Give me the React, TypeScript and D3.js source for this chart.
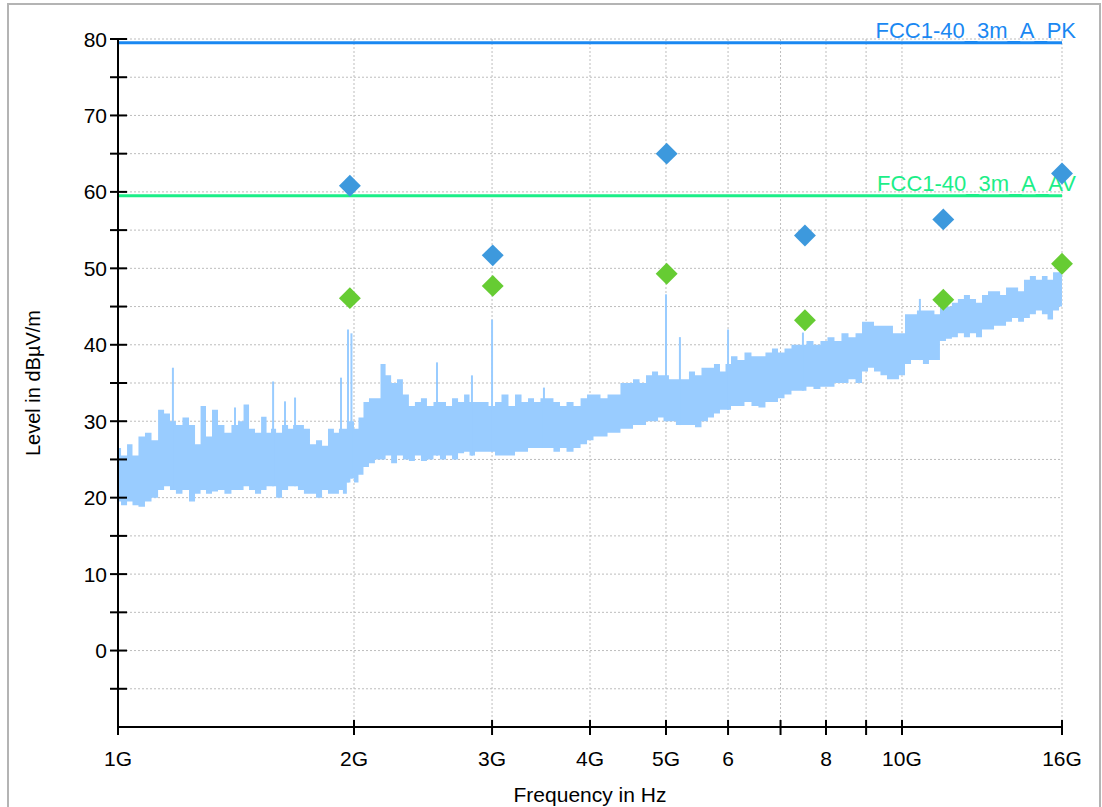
import React from 'react';
import * as d3 from 'd3';

// measured trace envelope (GHz, dBµV/m)
const traceFreq = [
  1.0, 1.018, 1.036, 1.051, 1.073, 1.092, 1.115, 1.135, 1.155, 1.175, 1.196, 1.221, 1.243, 1.265, 1.284, 1.306,
  1.33, 1.353, 1.381, 1.41, 1.435, 1.457, 1.482, 1.509, 1.536, 1.558, 1.577, 1.605, 1.633, 1.663, 1.682, 1.711,
  1.742, 1.773, 1.805, 1.837, 1.869, 1.902, 1.925, 1.947, 1.97, 1.988, 2.012, 2.041, 2.072, 2.108, 2.146, 2.178,
  2.211, 2.25, 2.289, 2.329, 2.371, 2.413, 2.456, 2.5, 2.552, 2.597, 2.644, 2.691, 2.739, 2.788, 2.828, 2.879,
  2.939, 3.0, 3.053, 3.116, 3.181, 3.238, 3.305, 3.364, 3.423, 3.494, 3.556, 3.63, 3.695, 3.772, 3.851, 3.931,
  4.0, 4.083, 4.168, 4.255, 4.329, 4.42, 4.499, 4.579, 4.674, 4.757, 4.842, 4.928, 5.0, 5.088, 5.209, 5.302,
  5.397, 5.493, 5.607, 5.706, 5.808, 5.911, 6.0, 6.105, 6.232, 6.362, 6.493, 6.628, 6.766, 6.886, 7.01, 7.155,
  7.303, 7.476, 7.632, 7.79, 7.952, 8.118, 8.286, 8.458, 8.636, 8.815, 8.971, 9.131, 9.292, 9.485, 9.654, 9.824,
  10.0, 10.18, 10.36, 10.54, 10.73, 10.92, 11.08, 11.28, 11.48, 11.68, 11.89, 12.1, 12.32, 12.54, 12.76, 12.99,
  13.22, 13.46, 13.69, 13.94, 14.19, 14.43, 14.69, 14.95, 15.22, 15.45, 15.72, 16.0,
];
const traceUpper = [
  26.5, 25.5, 27, 25.5, 28, 28.5, 27.5, 31.5, 31, 30, 29.5, 30.5, 29.5, 27, 32, 28,
  31.5, 29.5, 28.5, 29.5, 30, 32.2, 29, 28.5, 30.6, 28.5, 29, 28.5, 29.5, 29, 29.5, 29.5,
  29, 27, 27.5, 26.8, 29, 28.5, 29, 29, 30, 30, 29, 30.5, 32.5, 33, 33, 37.5,
  36, 35, 35.5, 33.5, 32, 32.5, 33, 32, 32.5, 32.5, 32, 33, 32.5, 33.5, 32.5, 32.5,
  32.5, 32, 32.5, 33.5, 32, 33.5, 32.5, 33, 32.5, 33, 33, 32.5, 32, 32.5, 32, 33,
  33.5, 33.5, 33, 33.5, 33.5, 35, 35, 35.5, 35, 36, 36.5, 36, 36, 35.5, 35.5, 35.5,
  36.5, 36, 37, 37, 37.5, 36.5, 37.5, 38.5, 38, 39, 38.5, 38.5, 39, 39.5, 39, 39.5,
  40, 40, 40.5, 40, 40.5, 41, 40.5, 41.5, 41, 41.5, 43, 43, 42.5, 42.5, 42.5, 41.5,
  41.5, 44, 44, 44.5, 44.5, 44.5, 44, 45.5, 45, 45.5, 46, 46.5, 46, 45.5, 46.5, 47,
  47, 46.5, 47.5, 47.5, 47, 48.5, 49, 48.5, 49, 48.5, 49.5, 50,
];
const traceLower = [
  19.5, 19, 19.5, 19, 18.8, 19.5, 20, 21, 21.5, 21, 20.5, 21, 19.5, 20.5, 21, 20.5,
  20.8, 21, 20.5, 21, 21, 21.5, 21, 20.5, 21, 21.5, 21.5, 20, 21, 21.5, 21.5, 21,
  20.5, 20.5, 20, 21, 20.5, 20.5, 21, 20.5, 22, 22.5, 22, 23, 24, 24.5, 25, 25,
  25.5, 24.5, 25.5, 25, 24.8, 25.5, 24.8, 25, 25.5, 25, 25.5, 25, 25.8, 26, 25.5, 26,
  26, 26, 25.5, 25.5, 25.5, 26, 26, 26.5, 26.5, 26.5, 26.5, 26, 26.5, 26, 26.5, 27,
  27.5, 28, 28, 28.5, 28.5, 29, 29, 29.5, 29.5, 30, 30, 30.5, 30, 30, 29.5, 29.5,
  29.5, 29.2, 30, 30.5, 31, 31.5, 31.5, 32, 32, 32.5, 32, 31.8, 32.5, 32.5, 33, 33.5,
  34, 34, 34.5, 34.2, 34.5, 34.5, 35, 35, 35.5, 35, 36.5, 37, 36.5, 36, 35.5, 35.5,
  36, 37.5, 38, 38, 37.5, 38, 38, 40.5, 40.8, 41, 41.5, 41, 41.5, 41, 42, 42,
  42.5, 42.5, 43, 43.5, 43, 43.5, 44, 44.5, 44, 43.3, 44.5, 45,
];

// narrow spurious spikes on the trace
const spikeFreq = [1.175, 1.41, 1.577, 1.633, 1.682, 1.925, 1.965, 1.985, 2.552, 2.828, 3.0, 3.494, 5.0, 5.209, 6.0, 7.476, 10.54];
const spikeLevel = [37, 31.8, 35.2, 32.6, 33.1, 35.7, 42, 41.5, 37.7, 36, 43.3, 34.4, 46.6, 41, 42, 41.6, 46];

// final measurement markers
const markerFreq = [1.976, 3.006, 5.01, 7.52, 11.29, 16.0];
const peakLevel = [60.8, 51.7, 65.0, 54.3, 56.4, 62.4];
const avgLevel = [46.1, 47.7, 49.3, 43.2, 45.9, 50.6];

const limitPK = 79.5;
const limitAV = 59.5;

const xTicks = [1, 2, 3, 4, 5, 6, 7, 8, 9, 10, 16];
const xTickLabels = ['1G', '2G', '3G', '4G', '5G', '6', '', '8', '', '10G', '16G'];
const yMajor = [0, 10, 20, 30, 40, 50, 60, 70, 80];
const yMinor = [-5, 5, 15, 25, 35, 45, 55, 65, 75];

const FONT = '"Liberation Sans", Arial, sans-serif';

const App = () => {
  const width = 1102;
  const height = 807;
  const left = 118;
  const right = 1062;
  const top = 39;
  const bottom = 727;

  const x = d3.scaleLog().domain([1, 16]).range([left, right]);
  const y = d3.scaleLinear().domain([-10, 80]).range([bottom, top]);

  const band = d3.area<number>()
    .x(i => x(traceFreq[i]))
    .y0(i => y(traceLower[i]))
    .y1(i => y(traceUpper[i]))
    .curve(d3.curveStep);
  const bandPath = band(d3.range(traceFreq.length)) || '';

  const diamond = d3.symbol().type(d3.symbolSquare).size(240)() || '';

  const grid = '#bdbdbd';
  const pkColor = '#1a88f2';
  const avColor = '#1cee88';

  return (
    <svg width={width} height={height} style={{ position: 'absolute', left: 0, top: 0, background: '#fff' }}>
      <rect x={8} y={4} width={1092} height={810} fill="#fff" stroke="#b4b4b4" strokeWidth={2} />

      {/* grid */}
      {[...yMajor, ...yMinor].map(v => (
        <line key={'hg' + v} x1={left} x2={right} y1={y(v)} y2={y(v)} stroke={grid} strokeDasharray="2,2" />
      ))}
      {xTicks.slice(1).map(f => (
        <line key={'vg' + f} x1={x(f)} x2={x(f)} y1={top} y2={bottom} stroke={grid} strokeDasharray="2,2" />
      ))}

      {/* trace */}
      <path d={bandPath} fill="#99ccff" />
      {spikeFreq.map((f, i) => {
        const j = d3.bisectLeft(traceFreq, f);
        const base = traceLower[Math.min(j, traceLower.length - 1)];
        return (
          <line key={'sp' + i} x1={x(f)} x2={x(f)} y1={y(base)} y2={y(spikeLevel[i])} stroke="#99ccff" strokeWidth={2} />
        );
      })}

      {/* limit lines */}
      <line x1={left} x2={right} y1={y(limitPK)} y2={y(limitPK)} stroke={pkColor} strokeWidth={3} />
      <line x1={left} x2={right} y1={y(limitAV)} y2={y(limitAV)} stroke={avColor} strokeWidth={3} />
      <text x={1076} y={y(limitPK) - 5} textAnchor="end" fontFamily={FONT} fontSize={22} fill={pkColor}>FCC1-40_3m_A_PK</text>
      <text x={1076} y={y(limitAV) - 5} textAnchor="end" fontFamily={FONT} fontSize={22} fill={avColor}>FCC1-40_3m_A_AV</text>

      {/* markers */}
      {markerFreq.map((f, i) => (
        <path key={'pk' + i} d={diamond} transform={`translate(${x(f)},${y(peakLevel[i])}) rotate(45)`} fill="#3d99dd" />
      ))}
      {markerFreq.map((f, i) => (
        <path key={'av' + i} d={diamond} transform={`translate(${x(f)},${y(avgLevel[i])}) rotate(45)`} fill="#66cc33" />
      ))}

      {/* axes */}
      <line x1={left} x2={left} y1={top} y2={bottom} stroke="#000" strokeWidth={2} />
      <line x1={left} x2={right} y1={bottom} y2={bottom} stroke="#000" strokeWidth={2} />
      {[...yMajor, ...yMinor].map(v => (
        <line key={'yt' + v} x1={left - 8} x2={left + 9} y1={y(v)} y2={y(v)} stroke="#000" strokeWidth={2} />
      ))}
      {yMajor.map(v => (
        <text key={'yl' + v} x={107} y={y(v)} dy="0.36em" textAnchor="end" fontFamily={FONT} fontSize={21} fill="#000">{v}</text>
      ))}
      {xTicks.map(f => (
        <line key={'xt' + f} x1={x(f)} x2={x(f)} y1={bottom - 7} y2={bottom + 8} stroke="#000" strokeWidth={2} />
      ))}
      {xTicks.map((f, i) => (
        <text key={'xl' + f} x={x(f)} y={766} textAnchor="middle" fontFamily={FONT} fontSize={21} fill="#000">{xTickLabels[i]}</text>
      ))}

      <text x={(left + right) / 2} y={802} textAnchor="middle" fontFamily={FONT} fontSize={21} fill="#000">Frequency in Hz</text>
      <text transform={`translate(40,${(top + bottom) / 2}) rotate(-90)`} textAnchor="middle" fontFamily={FONT} fontSize={20} fill="#000">Level in dBµV/m</text>
    </svg>
  );
};

export default App;
